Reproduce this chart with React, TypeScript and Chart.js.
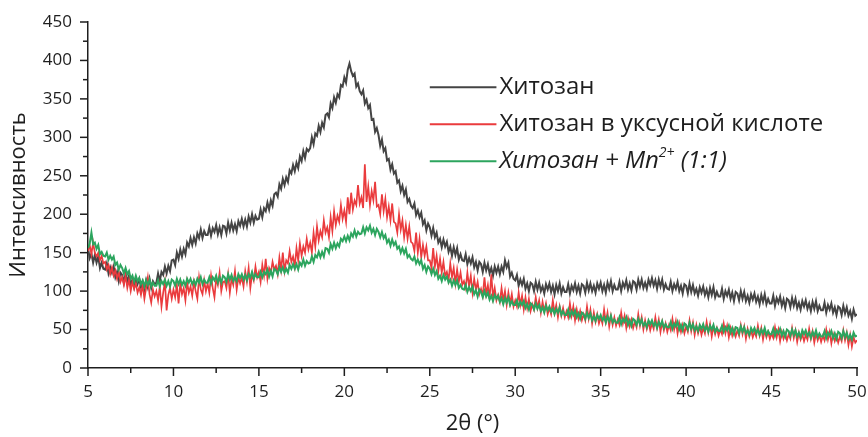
import React, { useEffect, useRef } from "react";
import { Chart, registerables } from "chart.js";

Chart.register(...registerables);

// 2θ scan grid (degrees)
const TWO_THETA_START = 5;
const TWO_THETA_STEP = 0.1;
const X_MIN = 5;
const X_MAX = 50;
const X_MAJOR = 5;
const X_MINOR = 2.5;
const Y_MIN = 0;
const Y_MAX = 450;
const Y_MAJOR = 50;
const Y_MINOR = 25;

const SERIES_NAMES = ["Хитозан", "Хитозан в уксусной кислоте", "Хитозан + Mn2+ (1:1)"];
const SERIES_COLORS = ["#444444", "#ea3b3d", "#2ca55e"];
const X_TITLE = "2θ (°)";
const Y_TITLE = "Интенсивность";

// Хитозан
const chitosan = [
  156,143,149,137,147,137,145,130,137,129,
  128,136,123,131,124,132,118,125,113,124,
  121,111,123,112,120,109,115,105,116,109,
  116,105,112,102,114,105,116,104,113,109,
  111,123,113,125,121,132,123,133,126,140,
  141,134,150,142,154,145,155,148,163,158,
  169,160,170,162,175,169,180,169,178,173,
  173,183,172,182,177,186,174,183,173,185,
  184,175,189,179,189,179,187,178,191,185,
  194,184,193,184,197,189,200,189,198,193,
  194,206,196,208,204,215,206,218,211,226,
  228,223,239,233,246,238,248,242,257,253,
  264,256,267,260,275,269,282,273,285,282,
  286,300,291,305,302,315,307,319,313,329,
  331,326,344,338,352,345,356,352,368,366,
  378,371,388,396,386,380,383,366,370,360,
  356,361,344,349,338,342,323,324,307,312,
  303,289,297,282,286,270,272,258,265,253,
  256,241,244,230,237,225,232,216,220,211,
  208,214,199,205,196,202,187,192,179,188,
  183,172,182,170,176,163,168,157,167,158,
  164,151,158,146,157,147,156,141,148,140,
  139,148,135,143,136,144,131,138,127,138,
  135,125,137,127,135,123,130,120,132,124,
  132,122,132,125,140,131,137,119,124,116,
  114,121,107,115,108,116,103,110,100,111,
  109,100,112,102,111,100,106,97,109,102,
  110,99,107,96,108,100,110,97,105,99,
  99,109,97,107,101,110,99,107,97,109,
  107,98,111,101,110,100,107,98,110,103,
  111,100,108,98,111,103,113,100,108,102,
  102,112,100,111,105,114,102,110,101,113,
  111,102,115,106,115,104,111,103,115,108,
  117,107,114,103,115,106,115,102,109,103,
  102,112,100,109,103,112,100,107,97,109,
  107,97,110,99,108,97,103,94,105,98,
  106,95,102,92,104,95,105,92,99,93,
  93,103,90,100,94,102,90,98,87,99,
  97,88,100,90,99,87,94,85,96,89,
  97,86,93,83,95,86,96,83,90,84,
  84,94,81,91,85,93,81,89,78,90,
  88,79,91,81,90,78,85,76,87,80,
  88,77,84,74,86,77,87,74,81,75,
  75,85,72,82,76,84,72,79,69,80,
  78,69,81,71,79,68,74,64,76,68,
  70
];

// Хитозан в уксусной кислоте
const chitosanAcetic = [
  152,160,148,163,150,145,150,140,146,136,
  138,128,134,122,131,120,127,116,125,112,
  118,108,120,104,115,100,112,103,110,98,
  105,95,108,90,104,118,96,85,102,93,
  100,88,106,80,98,112,75,95,104,90,
  102,92,108,84,110,96,104,88,112,98,
  106,94,112,100,90,118,102,96,114,100,
  110,98,120,104,92,116,108,124,100,112,
  113,104,122,98,116,108,126,102,118,110,
  118,106,126,112,130,104,122,114,132,118,
  125,112,134,120,142,116,130,124,138,128,
  133,122,144,128,150,126,140,136,152,138,
  145,132,156,140,162,146,158,150,168,154,
  163,150,176,158,184,166,178,170,192,176,
  183,170,196,178,204,186,198,190,212,194,
  205,190,222,200,228,206,218,212,238,214,
  222,208,265,216,236,212,230,218,242,210,
  212,200,226,204,220,196,210,192,214,190,
  188,176,200,180,192,170,186,168,184,164,
  162,152,176,150,168,144,160,146,158,140,
  140,130,156,132,146,126,142,124,138,120,
  125,114,136,118,130,110,128,112,124,108,
  113,104,124,106,120,98,116,102,112,96,
  103,94,118,96,108,90,122,92,104,88,
  95,86,104,88,100,82,98,84,96,80,
  88,80,98,82,94,76,92,78,90,74,
  83,76,92,78,88,72,86,74,84,70,
  78,70,88,72,82,66,80,68,78,66,
  74,66,84,68,80,62,76,64,74,62,
  70,62,80,64,76,58,72,60,70,58,
  66,58,76,60,72,54,68,56,66,55,
  63,56,72,58,68,52,65,54,63,52,
  60,53,70,55,66,50,62,51,60,49,
  58,51,66,52,63,47,60,49,58,47,
  56,49,64,50,61,45,58,47,56,45,
  54,47,62,48,59,43,56,45,54,43,
  52,45,60,46,57,41,54,44,52,42,
  50,44,58,45,55,40,52,42,50,41,
  49,42,56,44,54,38,51,41,49,40,
  47,41,55,42,52,37,49,40,47,38,
  45,39,53,40,50,35,47,38,45,36,
  44,38,52,39,49,34,46,37,44,35,
  43,37,51,38,48,33,45,36,43,34,
  42,36,50,37,47,32,44,35,42,33,
  41,35,49,36,46,30,43,28,40,33,
  36
];

// Хитозан + Mn2+ (1:1)
const chitosanMn = [
  156,162,176,161,163,155,160,148,151,146,
  145,150,141,146,141,145,134,137,128,134,
  130,123,130,122,126,116,120,112,120,113,
  117,109,114,106,114,108,115,106,111,107,
  107,114,106,113,109,115,107,113,106,115,
  113,107,116,109,115,108,113,107,116,111,
  116,109,114,108,116,111,118,109,115,111,
  111,118,110,118,114,120,111,118,111,120,
  118,112,122,115,121,113,118,113,122,117,
  122,115,121,114,122,118,125,116,122,118,
  118,125,118,125,122,128,119,126,119,129,
  127,122,131,125,131,124,129,124,134,129,
  135,129,135,128,137,133,141,133,139,136,
  137,145,138,147,144,151,144,151,145,156,
  155,150,161,155,163,156,162,158,168,165,
  171,165,172,166,175,171,179,171,177,174,
  175,183,175,183,179,185,176,181,173,181,
  177,170,177,169,173,163,167,159,167,160,
  164,155,158,150,156,149,155,144,147,142,
  140,145,136,141,135,140,129,134,125,132,
  129,122,129,121,126,116,120,113,121,115,
  119,111,115,107,114,108,114,104,108,103,
  102,108,99,105,100,106,96,101,93,102,
  99,92,100,93,98,89,94,87,95,90,
  94,86,91,83,91,85,92,82,87,82,
  82,88,80,86,82,87,78,83,76,84,
  82,76,84,77,82,74,79,72,81,75,
  80,73,77,70,77,72,79,69,74,69,
  69,76,67,74,69,75,66,71,64,72,
  70,64,72,65,71,62,67,61,69,64,
  69,62,66,59,67,61,68,59,63,59,
  59,66,57,64,60,66,56,62,55,64,
  62,56,64,57,63,55,59,53,62,57,
  62,55,59,52,60,55,61,52,57,53,
  53,60,51,58,54,60,50,56,49,58,
  56,50,59,51,57,49,54,48,56,51,
  57,49,54,47,55,50,56,47,52,48,
  48,55,47,53,49,55,46,52,44,53,
  52,45,54,47,53,45,49,43,52,47,
  52,45,50,43,50,45,52,43,48,44,
  44,51,42,49,45,51,42,48,41,50,
  48,42,50,43,49,41,46,40,49,44,
  49,42,46,39,47,42,49,40,45,41,
  41,48,39,46,42,48,39,45,38,47,
  45,39,48,40,46,38,43,37,46,41,
  42
];

const toPoints = (vals: number[]) =>
  vals.map((y, i) => ({ x: +(TWO_THETA_START + i * TWO_THETA_STEP).toFixed(2), y }));

const FONT = "'Open Sans', 'Noto Sans', sans-serif";
const AXIS_COLOR = "#1e1e1e";
const TEXT_COLOR = "#1e1e1e";

const minorTicksPlugin = {
  id: "minorTicks",
  afterDraw(chart: any) {
    const { ctx, chartArea, scales } = chart;
    ctx.save();
    ctx.strokeStyle = AXIS_COLOR;
    ctx.lineWidth = 1.5;
    const xs = scales.x;
    for (const t of xs.ticks) {
      const px = xs.getPixelForValue(t.value);
      const major = Math.abs(t.value % X_MAJOR) < 1e-6;
      const len = major ? 8 : 5;
      ctx.beginPath();
      ctx.moveTo(px, chartArea.bottom);
      ctx.lineTo(px, chartArea.bottom + len);
      ctx.stroke();
    }
    const ys = scales.y;
    for (const t of ys.ticks) {
      const py = ys.getPixelForValue(t.value);
      const major = Math.abs(t.value % Y_MAJOR) < 1e-6;
      const len = major ? 8 : 5;
      ctx.beginPath();
      ctx.moveTo(chartArea.left, py);
      ctx.lineTo(chartArea.left - len, py);
      ctx.stroke();
    }
    ctx.restore();
  },
};

type Part = { t: string; sup?: boolean };
const LEGEND_PARTS: { parts: Part[]; italic: boolean }[] = [
  { parts: [{ t: "Хитозан" }], italic: false },
  { parts: [{ t: "Хитозан в уксусной кислоте" }], italic: false },
  { parts: [{ t: "Хитозан + Mn" }, { t: "2+", sup: true }, { t: " (1:1)" }], italic: true },
];

const legendPlugin = {
  id: "customLegend",
  afterDraw(chart: any) {
    const { ctx, scales } = chart;
    const xs = scales.x;
    const ys = scales.y;
    const lineX0 = xs.getPixelForValue(25.0);
    const lineX1 = xs.getPixelForValue(28.9);
    const textX = lineX1 + 3;
    const rowY = [ys.getPixelForValue(365), ys.getPixelForValue(317), ys.getPixelForValue(269)];
    ctx.save();
    LEGEND_PARTS.forEach((row, i) => {
      const y = rowY[i];
      ctx.strokeStyle = SERIES_COLORS[i];
      ctx.lineWidth = 2;
      ctx.beginPath();
      ctx.moveTo(lineX0, y);
      ctx.lineTo(lineX1, y);
      ctx.stroke();
      let x = textX;
      ctx.fillStyle = TEXT_COLOR;
      ctx.textBaseline = "middle";
      ctx.textAlign = "left";
      for (const p of row.parts) {
        const size = p.sup ? 14 : 24;
        ctx.font = `${row.italic ? "italic " : ""}${size}px ${FONT}`;
        const dy = p.sup ? -8 : 0;
        ctx.fillText(p.t, x, y + dy);
        x += ctx.measureText(p.t).width;
      }
    });
    ctx.restore();
  },
};

export default function App() {
  const canvasRef = useRef<HTMLCanvasElement | null>(null);

  useEffect(() => {
    if (!canvasRef.current) return;
    const chart = new Chart(canvasRef.current, {
      type: "line",
      data: {
        datasets: [
          {
            label: SERIES_NAMES[0],
            data: toPoints(chitosan),
            borderColor: SERIES_COLORS[0],
            borderWidth: 2,
            pointRadius: 0,
            tension: 0,
            order: 3,
          },
          {
            label: SERIES_NAMES[1],
            data: toPoints(chitosanAcetic),
            borderColor: SERIES_COLORS[1],
            borderWidth: 1.7,
            pointRadius: 0,
            tension: 0,
            order: 2,
          },
          {
            label: SERIES_NAMES[2],
            data: toPoints(chitosanMn),
            borderColor: SERIES_COLORS[2],
            borderWidth: 2,
            pointRadius: 0,
            tension: 0,
            order: 1,
          },
        ],
      },
      options: {
        animation: false,
        responsive: true,
        maintainAspectRatio: false,
        layout: { padding: { left: 0, right: 11, top: 22, bottom: 0 } },
        plugins: { legend: { display: false }, tooltip: { enabled: false } },
        scales: {
          x: {
            type: "linear",
            min: X_MIN,
            max: X_MAX,
            afterFit: (s: any) => {
              s.height = 69;
            },
            ticks: {
              stepSize: X_MINOR,
              autoSkip: false,
              maxRotation: 0,
              padding: 0,
              color: TEXT_COLOR,
              font: { family: FONT, size: 17 },
              callback: (v: any) => (Math.abs(Number(v) % X_MAJOR) < 1e-6 ? String(v) : ""),
            },
            grid: { drawOnChartArea: false, drawTicks: true, tickLength: 14, tickColor: "transparent" },
            border: { display: true, color: AXIS_COLOR, width: 1.5 },
            title: {
              display: true,
              text: X_TITLE,
              color: TEXT_COLOR,
              font: { family: FONT, size: 22 },
              padding: { top: 0, bottom: 0 },
            },
          },
          y: {
            type: "linear",
            min: Y_MIN,
            max: Y_MAX,
            afterFit: (s: any) => {
              s.width = 88;
            },
            ticks: {
              stepSize: Y_MINOR,
              autoSkip: false,
              padding: 8,
              color: TEXT_COLOR,
              font: { family: FONT, size: 17 },
              callback: (v: any) => (Math.abs(Number(v) % Y_MAJOR) < 1e-6 ? String(v) : ""),
            },
            grid: { drawOnChartArea: false, drawTicks: true, tickLength: 8, tickColor: "transparent" },
            border: { display: true, color: AXIS_COLOR, width: 1.5 },
            title: {
              display: true,
              text: Y_TITLE,
              color: TEXT_COLOR,
              font: { family: FONT, size: 22 },
              padding: { top: 6, bottom: 0 },
            },
          },
        },
      },
      plugins: [minorTicksPlugin, legendPlugin],
    });
    return () => chart.destroy();
  }, []);

  return (
    <div style={{ position: "fixed", left: 0, top: 0, width: 868, height: 437, background: "#fff" }}>
      <canvas ref={canvasRef} />
    </div>
  );
}
